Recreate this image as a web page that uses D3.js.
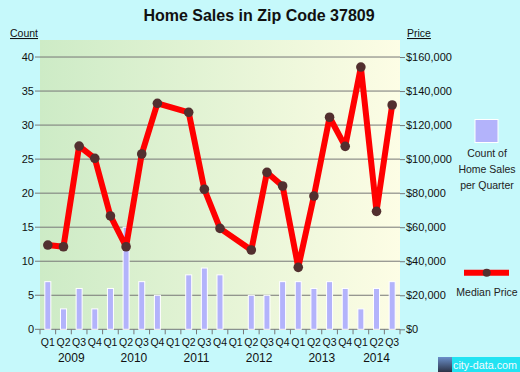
<!DOCTYPE html>
<html lang="en">
<head>
    <meta charset="UTF-8">
    <title>Home Sales in Zip Code 37809</title>
    <style>
        body { margin: 0; background: #c6f9fb; }
        svg { display: block; font-family: Arial, "Liberation Sans", sans-serif; }
    </style>
</head>
<body>
    <svg id="chart" width="520" height="372"></svg>

    <script src="https://d3js.org/d3.v7.min.js"></script>
    <script>
        // Data
        const quarters = ["Q1","Q2","Q3","Q4","Q1","Q2","Q3","Q4","Q1","Q2","Q3","Q4",
                          "Q1","Q2","Q3","Q4","Q1","Q2","Q3","Q4","Q1","Q2","Q3"];
        const years = ["2009","2009","2009","2009","2010","2010","2010","2010","2011","2011","2011","2011",
                       "2012","2012","2012","2012","2013","2013","2013","2013","2014","2014","2014"];
        const counts = [7, 3, 6, 3, 6, 15, 7, 5, 0, 8, 9, 8, 0, 5, 5, 7, 7, 6, 7, 6, 3, 6, 7];
        const prices = [49500, 48500, 107700, 100500, 66600, 48500, 103000, 132800,
                        null, 127500, 82300, 59300, null, 46600, 92200, 84200,
                        36400, 78300, 124600, 107500, 154100, 69300, 131800];
        const countTicks = [0, 5, 10, 15, 20, 25, 30, 35, 40];
        const priceTicks = [0, 20000, 40000, 60000, 80000, 100000, 120000, 140000, 160000];

        const svg = d3.select("#chart");
        const plotL = 40, plotR = 400, plotT = 40, plotB = 329.3;
        const ids = quarters.map((q, i) => i);

        const x = d3.scaleBand().domain(ids).range([plotL, plotR]);
        const yCount = d3.scaleLinear().domain([0, 42.5]).range([plotB, plotT]);
        const yPrice = d3.scaleLinear().domain([0, 170000]).range([plotB, plotT]);

        // Plot background gradient (green -> pale yellow)
        const defs = svg.append("defs");
        const grad = defs.append("linearGradient")
            .attr("id", "bg").attr("x1", "0").attr("x2", "1").attr("y1", "0").attr("y2", "0");
        grad.append("stop").attr("offset", "0").attr("stop-color", "#cdebc6");
        grad.append("stop").attr("offset", "1").attr("stop-color", "#fdfde5");
        svg.append("rect")
            .attr("x", plotL).attr("y", plotT)
            .attr("width", plotR - plotL).attr("height", plotB - plotT)
            .attr("fill", "url(#bg)");

        // Title
        svg.append("text")
            .attr("x", 259).attr("y", 21)
            .attr("text-anchor", "middle")
            .attr("font-size", "16px").attr("font-weight", "bold")
            .attr("fill", "#111")
            .text("Home Sales in Zip Code 37809");

        // Gridlines (with small ticks poking out on the left)
        svg.append("g").selectAll("line")
            .data(countTicks)
            .enter()
            .append("line")
            .attr("x1", plotL - 5).attr("x2", plotR)
            .attr("y1", d => yCount(d)).attr("y2", d => yCount(d))
            .attr("stroke", "#777");

        // Left axis labels
        svg.append("g")
            .attr("transform", `translate(${plotL},0)`)
            .call(d3.axisLeft(yCount).tickValues(countTicks).tickSize(0).tickPadding(6))
            .call(g => g.select(".domain").remove())
            .call(g => g.selectAll("text").attr("font-size", "11px").attr("fill", "#111")
                .attr("font-family", null));

        // Right axis labels + tick marks
        svg.append("g")
            .attr("transform", `translate(${plotR},0)`)
            .call(d3.axisRight(yPrice).tickValues(priceTicks).tickSize(5).tickPadding(1)
                .tickFormat(d => "$" + d3.format(",")(d)))
            .call(g => g.select(".domain").remove())
            .call(g => g.selectAll("line").attr("stroke", "#777"))
            .call(g => g.selectAll("text").attr("font-size", "11px").attr("fill", "#111")
                .attr("font-family", null));

        // Axis titles
        svg.append("text").attr("x", 10).attr("y", 37)
            .attr("font-size", "10.5px").attr("fill", "#111")
            .attr("text-decoration", "underline").text("Count");
        svg.append("text").attr("x", 407).attr("y", 37)
            .attr("font-size", "10.5px").attr("fill", "#111")
            .attr("text-decoration", "underline").text("Price");

        // Bars for counts
        const barW = 6;
        svg.append("g").selectAll("rect")
            .data(counts.map((c, i) => ({ i, c })).filter(d => d.c > 0))
            .enter()
            .append("rect")
            .attr("x", d => x(d.i) + x.bandwidth() / 2 - barW / 2)
            .attr("y", d => yCount(d.c))
            .attr("width", barW)
            .attr("height", d => plotB - yCount(d.c))
            .attr("fill", "#b3b3fb")
            .attr("stroke", "#fff")
            .attr("stroke-width", 1);

        // X axis quarter ticks at band edges
        const edges = ids.map(i => x(i)).concat([plotR]);
        svg.append("g").selectAll("line")
            .data(edges)
            .enter()
            .append("line")
            .attr("x1", d => d).attr("x2", d => d)
            .attr("y1", plotB).attr("y2", plotB + 5)
            .attr("stroke", "#777");

        svg.append("g").selectAll("text")
            .data(ids)
            .enter()
            .append("text")
            .attr("x", i => x(i) + x.bandwidth() / 2)
            .attr("y", 346)
            .attr("text-anchor", "middle")
            .attr("font-size", "10.5px").attr("fill", "#111")
            .text(i => quarters[i]);

        // Year labels centred under their quarters
        const yearGroups = d3.groups(ids, i => years[i]);
        svg.append("g").selectAll("text")
            .data(yearGroups)
            .enter()
            .append("text")
            .attr("x", d => d3.mean(d[1], i => x(i) + x.bandwidth() / 2))
            .attr("y", 362)
            .attr("text-anchor", "middle")
            .attr("font-size", "12px").attr("fill", "#111")
            .text(d => d[0]);

        // Median price line (skipping quarters without data)
        const pts = prices.map((p, i) => ({ i, p })).filter(d => d.p !== null);
        const line = d3.line()
            .x(d => x(d.i) + x.bandwidth() / 2)
            .y(d => yPrice(d.p));
        svg.append("path")
            .datum(pts)
            .attr("d", line)
            .attr("fill", "none")
            .attr("stroke", "#ff0000")
            .attr("stroke-width", 6)
            .attr("stroke-linejoin", "round");
        svg.append("g").selectAll("circle")
            .data(pts)
            .enter()
            .append("circle")
            .attr("cx", d => x(d.i) + x.bandwidth() / 2)
            .attr("cy", d => yPrice(d.p))
            .attr("r", 4.8)
            .attr("fill", "#522f2f");

        // Legend: count
        svg.append("rect")
            .attr("x", 475).attr("y", 119.5).attr("width", 23).attr("height", 23)
            .attr("fill", "#b3b3fb").attr("stroke", "#fff").attr("stroke-width", 1);
        const legText = svg.append("text")
            .attr("text-anchor", "middle")
            .attr("font-size", "10.5px").attr("fill", "#222");
        ["Count of", "Home Sales", "per Quarter"].forEach((t, k) => {
            legText.append("tspan").attr("x", 487).attr("y", 157 + k * 16).text(t);
        });

        // Legend: median price
        svg.append("line")
            .attr("x1", 464).attr("x2", 509).attr("y1", 272.7).attr("y2", 272.7)
            .attr("stroke", "#ff0000").attr("stroke-width", 6);
        svg.append("circle")
            .attr("cx", 486.7).attr("cy", 272.7).attr("r", 4)
            .attr("fill", "#522f2f");
        svg.append("text")
            .attr("x", 487).attr("y", 296)
            .attr("text-anchor", "middle")
            .attr("font-size", "10.5px").attr("fill", "#222")
            .text("Median Price");

        // city-data.com badge
        const sky = defs.append("linearGradient")
            .attr("id", "sky").attr("x1", "0").attr("x2", "0").attr("y1", "0").attr("y2", "1");
        sky.append("stop").attr("offset", "0").attr("stop-color", "#6a8fc9");
        sky.append("stop").attr("offset", "1").attr("stop-color", "#2c3347");
        svg.append("rect").attr("x", 438).attr("y", 357).attr("width", 14).attr("height", 15)
            .attr("fill", "url(#sky)");
        svg.append("rect").attr("x", 452).attr("y", 357).attr("width", 68).attr("height", 15)
            .attr("fill", "#22e3f2");
        svg.append("text")
            .attr("x", 453).attr("y", 368.5)
            .attr("font-size", "11px").attr("fill", "#f4fbff")
            .attr("textLength", 64).attr("lengthAdjust", "spacingAndGlyphs")
            .text("city-data.com");
    </script>
</body>
</html>
